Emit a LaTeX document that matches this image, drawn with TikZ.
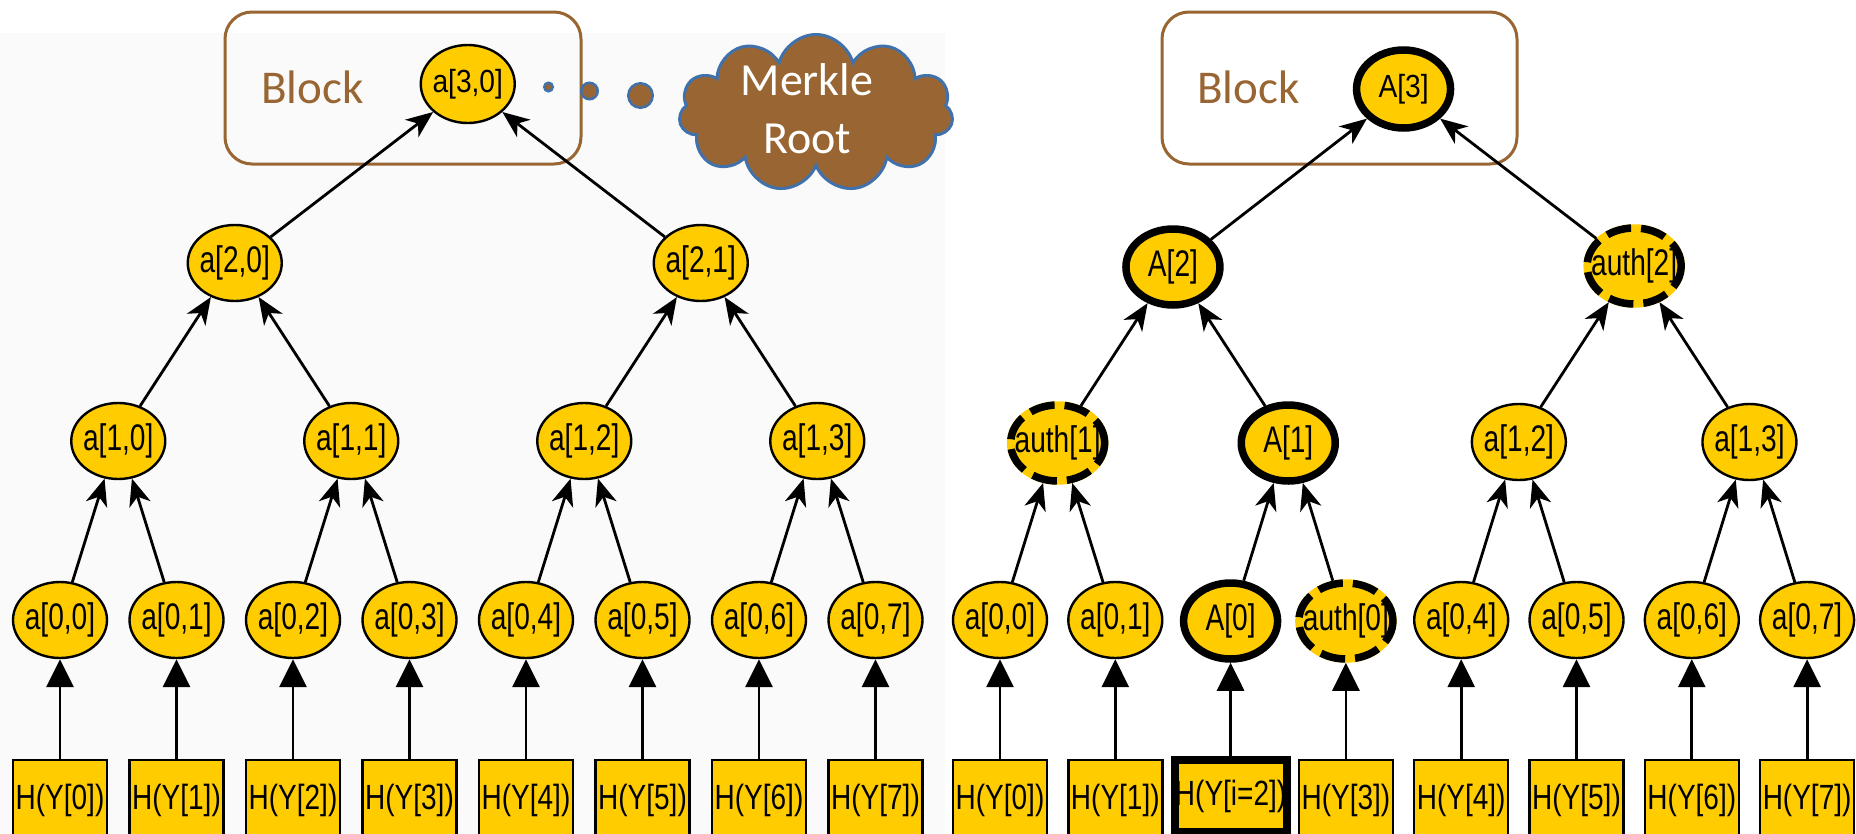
\documentclass[tikz,border=0pt]{standalone}
\usepackage{fontspec}
\usetikzlibrary{arrows.meta,shapes.geometric,shapes.symbols}
\newfontfamily\gvfont[FakeStretch=0.76]{Liberation Sans}
\newfontfamily\gvleaffont[FakeStretch=0.8]{Liberation Sans}
\newfontfamily\gvtopfont[FakeStretch=0.88]{Liberation Sans}
\newfontfamily\blkfont{Carlito}
\definecolor{gvy}{RGB}{255,204,0}
\definecolor{brn}{RGB}{153,102,51}
\definecolor{cblue}{RGB}{65,113,170}
\definecolor{panel}{RGB}{250,250,250}
\newcommand\gvedges[1]{%
  \foreach \k in {0,...,7}{\draw[upl] (#1H\k.north) -- (#1-0-\k.south);}
  \foreach \j in {0,...,3}{%
    \pgfmathtruncatemacro\ca{2*\j}\pgfmathtruncatemacro\cb{2*\j+1}%
    \draw[up] (#1-0-\ca.72) -- (#1-1-\j.250);
    \draw[up] (#1-0-\cb.108) -- (#1-1-\j.290);
  }
  \foreach \j in {0,1}{%
    \pgfmathtruncatemacro\ca{2*\j}\pgfmathtruncatemacro\cb{2*\j+1}%
    \draw[up] (#1-1-\ca.58) -- (#1-2-\j.235);
    \draw[up] (#1-1-\cb.122) -- (#1-2-\j.305);
  }
  \draw[up] (#1-2-0.36) -- (#1-3-0.219);
  \draw[up] (#1-2-1.144) -- (#1-3-0.321);
}
\begin{document}
\begin{tikzpicture}[x=1pt,y=-1pt,
  nd/.style={ellipse, fill=gvy, draw=black, line width=2.4pt, minimum width=94pt,
    minimum height=76pt, inner xsep=-20pt, inner ysep=0pt,
    font=\gvfont\fontsize{37pt}{42pt}\selectfont},
  topnd/.style={minimum height=78pt, font=\gvtopfont\fontsize{32pt}{36pt}\selectfont},
  thk/.style={nd, line width=7.5pt},
  authnd/.style={nd, draw=gvy, line width=7.5pt,
    postaction={draw=black, line width=7.5pt, dash pattern=on 25pt off 10pt}},
  leaf/.style={rectangle, fill=gvy, draw=black, line width=2.4pt, minimum width=94pt,
    minimum height=80pt, inner sep=0pt, font=\gvleaffont\fontsize{35pt}{40pt}\selectfont},
  thkleaf/.style={leaf, line width=8pt, minimum width=112pt, minimum height=72pt},
  up/.style={-{Stealth[length=27pt,width=22pt,inset=8pt]}, line width=2.8pt},
  upl/.style={-{Triangle[length=28pt,width=27pt]}, line width=2.8pt},
  blk/.style={rectangle, draw=brn, line width=3pt, rounded corners=27pt, inner sep=0pt},
  blktxt/.style={text=brn, inner sep=0pt, font=\blkfont\fontsize{47pt}{56pt}\selectfont},
  dot/.style={circle, fill=brn, draw=cblue, line width=2.5pt, inner sep=0pt},
]
\useasboundingbox (0,0) rectangle (1856,833);
\fill[white] (0,0) rectangle (1856,833);
\fill[panel] (0,33) rectangle (945,833);

% ---- left block, dots, cloud
\node[blk, minimum width=356pt, minimum height=152pt] (lblock) at (403,88) {};
\node[blktxt, anchor=base west] (lbt) at (261,103) {Block};
\node[dot, minimum size=8.5pt] (d1) at (548.5,87) {};
\node[dot, minimum size=16.5pt] (d2) at (589.5,91) {};
\node[dot, minimum size=24.5pt] (d3) at (640.5,95.5) {};
\node[cloud, cloud puffs=11, aspect=1.75, fill=brn, draw=cblue, line width=3pt,
  minimum width=274pt, minimum height=157pt, inner sep=0pt] (cloud) at (816,113) {};
\node[align=center, text=white, inner sep=0pt,
  font=\blkfont\fontsize{46pt}{58pt}\selectfont] (mr) at (807,109) {Merkle\\Root};

% ---- right block
\node[blk, minimum width=355pt, minimum height=152pt] (rblock) at (1339.5,88) {};
\node[blktxt, anchor=base west] (rbt) at (1197,103) {Block};

% ---- left tree
\foreach \k in {0,...,7}{%
  \node[leaf] (LH\k) at ({60+116.5*\k},800) {H(Y[\k])};
  \node[nd] (L-0-\k) at ({60+116.5*\k},620) {a[0,\k]};
}
\foreach \k in {0,...,3}{\node[nd] (L-1-\k) at ({118.25+233*\k},441) {a[1,\k]};}
\foreach \k in {0,1}{\node[nd] (L-2-\k) at ({234.75+466*\k},263) {a[2,\k]};}
\node[nd, topnd] (L-3-0) at (467.75,84) {a[3,0]};
\gvedges{L}

% ---- right tree
\node[leaf] (RH0) at (1000,800) {H(Y[0])};
\node[leaf] (RH1) at (1115.3,800) {H(Y[1])};
\node[thkleaf] (RH2) at (1230.6,796) {H(Y[i=2])};
\node[leaf] (RH3) at (1345.9,800) {H(Y[3])};
\node[leaf] (RH4) at (1461.2,800) {H(Y[4])};
\node[leaf] (RH5) at (1576.5,800) {H(Y[5])};
\node[leaf] (RH6) at (1691.8,800) {H(Y[6])};
\node[leaf] (RH7) at (1807.1,800) {H(Y[7])};
\node[nd] (R-0-0) at (1000,620) {a[0,0]};
\node[nd] (R-0-1) at (1115.3,620) {a[0,1]};
\node[thk] (R-0-2) at (1230.6,621) {A[0]};
\node[authnd] (R-0-3) at (1345.9,621) {auth[0]};
\node[nd] (R-0-4) at (1461.2,620) {a[0,4]};
\node[nd] (R-0-5) at (1576.5,620) {a[0,5]};
\node[nd] (R-0-6) at (1691.8,620) {a[0,6]};
\node[nd] (R-0-7) at (1807.1,620) {a[0,7]};
\node[authnd] (R-1-0) at (1057.65,443) {auth[1]};
\node[thk] (R-1-1) at (1288.25,443) {A[1]};
\node[nd] (R-1-2) at (1518.85,442) {a[1,2]};
\node[nd] (R-1-3) at (1749.45,442) {a[1,3]};
\node[thk] (R-2-0) at (1172.95,267) {A[2]};
\node[authnd] (R-2-1) at (1634.15,266) {auth[2]};
\node[thk, topnd] (R-3-0) at (1403.55,89) {A[3]};
\gvedges{R}
\end{tikzpicture}
\end{document}
